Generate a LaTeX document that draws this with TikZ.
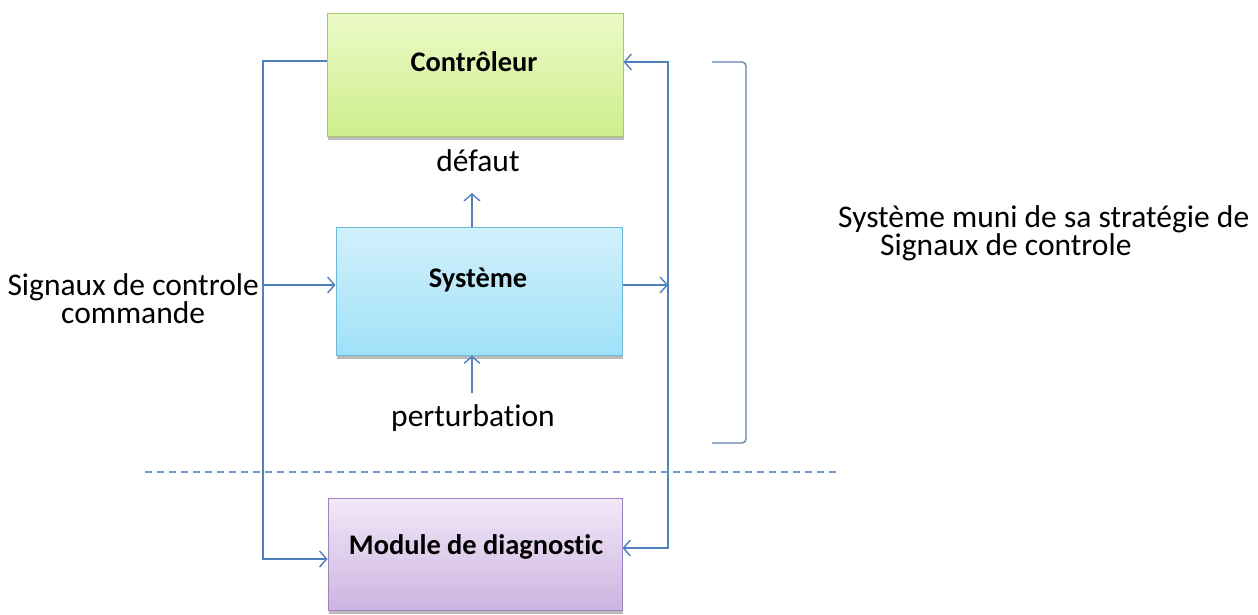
\documentclass[tikz,border=0pt]{standalone}
\usepackage{fontspec}
\setmainfont{Carlito}[Ligatures=NoCommon]
\usetikzlibrary{arrows.meta,shadows}
\definecolor{lineblue}{RGB}{79,129,189}
\definecolor{gtop}{RGB}{236,250,200}
\definecolor{gbot}{RGB}{205,238,140}
\definecolor{gbord}{RGB}{165,200,110}
\definecolor{btop}{RGB}{210,240,252}
\definecolor{bbot}{RGB}{160,225,248}
\definecolor{bbord}{RGB}{110,185,215}
\definecolor{ptop}{RGB}{242,232,248}
\definecolor{pbot}{RGB}{205,180,225}
\definecolor{pbord}{RGB}{160,130,190}
\begin{document}
\begin{tikzpicture}[x=1pt,y=-1pt,
  conn/.style={draw=lineblue,line width=1.4pt},
  tip/.style={-{Straight Barb[length=7pt,width=16pt,line width=1.4pt]}},
  both/.style={{Straight Barb[length=7pt,width=16pt,line width=1.4pt]}-{Straight Barb[length=7pt,width=16pt,line width=1.4pt]}},
  boxbase/.style={rectangle,line width=1pt,
    drop shadow={shadow xshift=1pt,shadow yshift=-4pt,opacity=0.45,fill=black!60}},
  lbl/.style={font=\fontsize{28.4}{30}\selectfont\bfseries},
  txt/.style={font=\fontsize{31.5}{31}\selectfont, inner sep=0pt}
]
\useasboundingbox (0,0) rectangle (1258,614);
\fill[white] (0,0) rectangle (1258,614);

% boxes
\node[boxbase, draw=gbord, top color=gtop, bottom color=gbot,
  minimum width=296pt, minimum height=123pt] (ctrl) at (475,74.5) {};
\node[boxbase, draw=bbord, top color=btop, bottom color=bbot,
  minimum width=286pt, minimum height=128pt] (sys) at (479,291) {};
\node[boxbase, draw=pbord, top color=ptop, bottom color=pbot,
  minimum width=294pt, minimum height=112pt] (diag) at (475,554) {};

\node[lbl] (ctrlt) at (474,62) {Contrôleur};
\node[lbl] (syst) at (478,280) {Système};
\node[lbl] (diagt) at (476,547) {Module de diagnostic};

% coordinates
\coordinate (L1) at (263,61);
\coordinate (L2) at (263,559);
\coordinate (R1) at (668,62);
\coordinate (R2) at (668,548);
\coordinate (R3) at (668,285);
\coordinate (SI) at (263,285);
\coordinate (DF) at (472,193);
\coordinate (PT) at (472,393);

% left loop
\draw[conn,tip] (L1 -| ctrl.west) -- (L1) -- (L2) -- (L2 -| diag.west);
% right loop
\draw[conn,both] (R1 -| ctrl.east) -- (R1) -- (R2) -- (R2 -| diag.east);
% system output
\draw[conn,tip] (R3 -| sys.east) -- (R3);
% system input
\draw[conn,tip] (SI) -- (SI -| sys.west);
% defaut / perturbation
\draw[conn,tip] (DF |- sys.north) -- (DF);
\draw[conn,tip] (PT) -- (PT |- sys.south);

\node[txt] (defaut) at (478,161) {défaut};
\node[txt] (pert) at (473,418) {perturbation};
\node[txt, align=center, anchor=east, font=\fontsize{31.5}{28}\selectfont] (sig) at (259,299) {Signaux de controle\\commande};

% dashed separator
\draw[draw=lineblue!80, line width=1.2pt, dash pattern=on 7pt off 5pt] (145,472) -- (836,472) coordinate (dashend);

% bracket
\draw[draw=lineblue!70!gray, line width=1.3pt, rounded corners=4pt] (712,62) -- (746,62) -- (746,443) -- (712,443);

\node[txt, anchor=west] (strat1) at (838,219) {Système muni de sa stratégie de};
\node[txt, anchor=west] (strat2) at (880,247) {Signaux de controle};
\end{tikzpicture}
\end{document}
